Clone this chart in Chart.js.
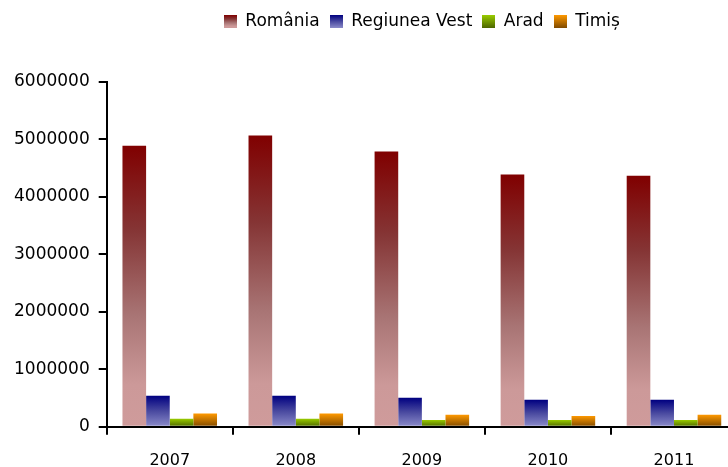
<!DOCTYPE html>
<html>
<head>
<meta charset="utf-8">
<script src="https://cdn.jsdelivr.net/npm/chart.js@4/dist/chart.umd.min.js"></script>
<style>
  html, body { margin: 0; padding: 0; background: #fff; overflow: hidden; }
  #wrap { width: 840px; height: 467px; }
</style>
</head>
<body>
<div id="wrap"><canvas id="myChart"></canvas></div>
<script>
// data
const years = ['2007', '2008', '2009', '2010', '2011'];
const romania = [4890000, 5070000, 4790000, 4390000, 4370000];
const regiuneaVest = [540000, 540000, 505000, 470000, 470000];
const arad = [140000, 140000, 120000, 120000, 120000];
const timis = [230000, 230000, 210000, 190000, 210000];
const yTicks = [0, 1000000, 2000000, 3000000, 4000000, 5000000, 6000000];

// gradient stops, top -> bottom of each bar
const gradRomania = [[0, '#800000'], [0.3, '#853535'], [0.6, '#a87474'], [0.85, '#cc9999'], [1, '#cf9b9b']];
const gradVest = [[0, '#000080'], [0.5, '#4a4aa0'], [1, '#8c8cca']];
const gradArad = [[0, '#99cc00'], [1, '#4d6600']];
const gradTimis = [[0, '#ff9900'], [1, '#7f4a00']];

const FONT = 'DejaVu Sans';

function addStops(g, stops) {
    stops.forEach(s => g.addColorStop(s[0], s[1]));
    return g;
}

// gradient per bar, using the y scale for the bar ends
function barGradient(stops) {
    return function (ctx) {
        const chart = ctx.chart;
        if (!chart.chartArea || ctx.type !== 'data') return stops[0][1];
        const y = chart.scales.y;
        const top = y.getPixelForValue(ctx.raw);
        const base = y.getPixelForValue(0);
        if (!isFinite(top) || top === base) return stops[0][1];
        return addStops(chart.ctx.createLinearGradient(0, top, 0, base), stops);
    };
}

// small gradient squares for the legend
function legendBox(stops) {
    const c = document.createElement('canvas');
    c.width = 13; c.height = 13;
    const x = c.getContext('2d');
    x.fillStyle = addStops(x.createLinearGradient(0, 0, 0, 13), stops);
    x.fillRect(0, 0, 13, 13);
    return c;
}
const boxes = [legendBox(gradRomania), legendBox(gradVest), legendBox(gradArad), legendBox(gradTimis)];

// extra room under the legend
const legendGap = {
    id: 'legendGap',
    afterInit(chart) {
        const fit = chart.legend.fit;
        chart.legend.fit = function () {
            fit.call(this);
            this.height += 42;
        };
    }
};

const ctx = document.getElementById('myChart').getContext('2d');
const myChart = new Chart(ctx, {
    type: 'bar',
    data: {
        labels: years,
        datasets: [
            { label: 'România', data: romania, backgroundColor: barGradient(gradRomania) },
            { label: 'Regiunea Vest', data: regiuneaVest, backgroundColor: barGradient(gradVest) },
            { label: 'Arad', data: arad, backgroundColor: barGradient(gradArad) },
            { label: 'Timiș', data: timis, backgroundColor: barGradient(gradTimis) }
        ]
    },
    plugins: [legendGap],
    options: {
        responsive: true,
        maintainAspectRatio: false,
        animation: false,
        layout: { padding: { left: 5, right: 103, top: 3, bottom: -19 } },
        datasets: {
            bar: { categoryPercentage: 0.75, barPercentage: 1.0, borderWidth: 0 }
        },
        plugins: {
            tooltip: { enabled: false },
            legend: {
                position: 'top',
                fullSize: false,
                labels: {
                    usePointStyle: true,
                    boxWidth: 13,
                    boxHeight: 13,
                    padding: 10,
                    color: '#000',
                    font: { family: FONT, size: 17 },
                    generateLabels: function (chart) {
                        const items = Chart.defaults.plugins.legend.labels.generateLabels(chart);
                        items.forEach((it, i) => { it.pointStyle = boxes[i]; });
                        return items;
                    }
                }
            }
        },
        scales: {
            x: {
                grid: {
                    drawOnChartArea: false,
                    drawTicks: true,
                    tickLength: 8,
                    color: '#000',
                    lineWidth: 2
                },
                border: { display: true, color: '#000', width: 2 },
                ticks: {
                    color: '#000',
                    padding: 16,
                    font: { family: FONT, size: 16 }
                }
            },
            y: {
                min: 0,
                max: 6000000,
                afterBuildTicks: function (axis) {
                    axis.ticks = yTicks.map(v => ({ value: v }));
                },
                grid: {
                    drawOnChartArea: false,
                    drawTicks: true,
                    tickLength: 8,
                    color: '#000',
                    lineWidth: 2
                },
                border: { display: true, color: '#000', width: 2 },
                ticks: {
                    color: '#000',
                    padding: 9,
                    font: { family: FONT, size: 17 },
                    callback: v => String(v)
                }
            }
        }
    }
});
</script>
</body>
</html>
